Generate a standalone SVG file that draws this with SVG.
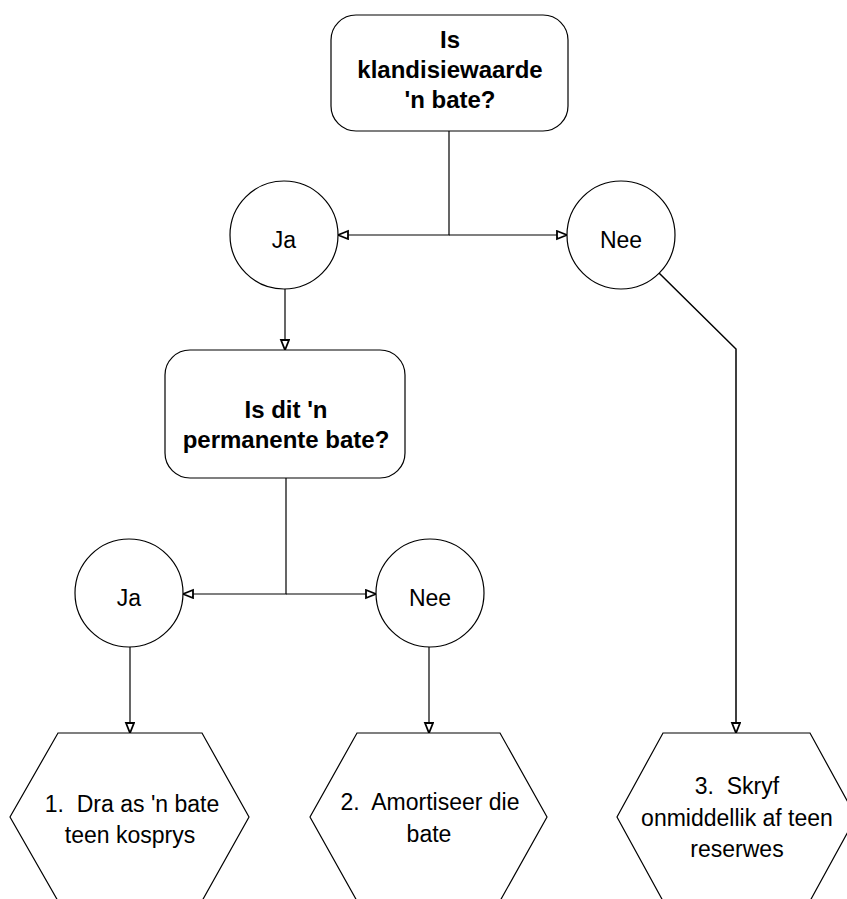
<svg xmlns="http://www.w3.org/2000/svg" width="847" height="899" viewBox="0 0 847 899">
<style>
.shape{fill:#fff;stroke:#000;stroke-width:1.2}
.conn{fill:none;stroke:#000;stroke-width:1.2}
.q{font-family:"Liberation Sans",Arial,sans-serif;font-weight:bold;font-size:24px;text-anchor:middle;fill:#000}
.t{font-family:"Liberation Sans",Arial,sans-serif;font-size:23px;text-anchor:middle;fill:#000}
</style>
<defs>
<marker id="arr" markerWidth="12" markerHeight="11" refX="11" refY="5" orient="auto" markerUnits="userSpaceOnUse">
<path d="M1,1 L11,5 L1,9 z" fill="#fff" stroke="#000" stroke-width="1.8"/>
</marker>
</defs>
<rect width="847" height="899" fill="#fff"/>
<g id="connectors">
<polyline class="conn" points="449,131 449,235 338,235" marker-end="url(#arr)"/>
<polyline class="conn" points="449,235 567,235" marker-end="url(#arr)"/>
<line class="conn" x1="285" y1="289" x2="285" y2="350" marker-end="url(#arr)"/>
<polyline class="conn" points="286,478 286,594 183,594" marker-end="url(#arr)"/>
<polyline class="conn" points="286,594 376,594" marker-end="url(#arr)"/>
<line class="conn" x1="130" y1="647" x2="130" y2="733" marker-end="url(#arr)"/>
<line class="conn" x1="429" y1="647" x2="429" y2="733" marker-end="url(#arr)"/>
<polyline class="conn" style="stroke-width:1.5" points="659,273 736,349 736,733" marker-end="url(#arr)"/>
</g>
<g id="q1">
<rect class="shape" x="331" y="15" width="237" height="116" rx="25" ry="25"/>
<text class="q" x="450" y="48">Is</text>
<text class="q" x="450" y="78">klandisiewaarde</text>
<text class="q" x="450" y="108">'n bate?</text>
</g>
<g id="ja1">
<circle class="shape" cx="284" cy="235" r="54"/>
<text class="t" x="284" y="248">Ja</text>
</g>
<g id="nee1">
<circle class="shape" cx="621" cy="235" r="54"/>
<text class="t" x="621" y="248">Nee</text>
</g>
<g id="q2">
<rect class="shape" x="165" y="350" width="240" height="128" rx="25" ry="25"/>
<text class="q" x="286" y="418">Is dit 'n</text>
<text class="q" x="286" y="448">permanente bate?</text>
</g>
<g id="ja2">
<circle class="shape" cx="129" cy="593" r="54"/>
<text class="t" x="129" y="606">Ja</text>
</g>
<g id="nee2">
<circle class="shape" cx="430" cy="593" r="54"/>
<text class="t" x="430" y="606">Nee</text>
</g>
<g id="r1">
<polygon class="shape" points="58,733 202,733 249,817 202,901 58,901 10,817"/>
<text class="t" x="132" y="812" xml:space="preserve">1.  Dra as 'n bate</text>
<text class="t" x="130" y="843">teen kosprys</text>
</g>
<g id="r2">
<polygon class="shape" points="357,733 500,733 547,817 500,901 357,901 310,817"/>
<text class="t" x="430" y="810" xml:space="preserve">2.  Amortiseer die</text>
<text class="t" x="429" y="842">bate</text>
</g>
<g id="r3">
<polygon class="shape" points="663,733 810,733 856,817 810,901 663,901 617,817"/>
<text class="t" x="737" y="794" xml:space="preserve">3.  Skryf</text>
<text class="t" x="737" y="826">onmiddellik af teen</text>
<text class="t" x="737" y="857">reserwes</text>
</g>
</svg>
